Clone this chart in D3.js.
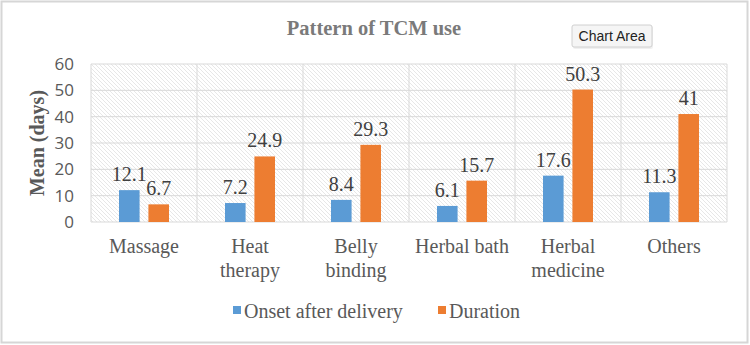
<!DOCTYPE html>
<html>
<head>
  <meta charset="utf-8">
  <title>Pattern of TCM use</title>
  <script src="https://d3js.org/d3.v7.min.js" charset="utf-8"></script>
  <style>
  body {margin: 0; background: #fff;}
  svg {display: block;}
  </style>
</head>
<body>
<script>
// chart values
const categories = [["Massage"], ["Heat", "therapy"], ["Belly", "binding"], ["Herbal bath"], ["Herbal", "medicine"], ["Others"]];
const seriesNames = ["Onset after delivery", "Duration"];
const onset = [12.1, 7.2, 8.4, 6.1, 17.6, 11.3];
const duration = [6.7, 24.9, 29.3, 15.7, 50.3, 41];
const yTicks = [0, 10, 20, 30, 40, 50, 60];

const width = 750, height = 345;
const margin = {left: 91, right: 23, top: 64, bottom: 123};
const colors = ["#5b9bd5", "#ed7d31"];
const serif = "'Liberation Serif', 'DejaVu Serif', serif";

const svg = d3.select("body").append("svg")
  .attr("width", width).attr("height", height);

// hatch pattern for the plot background
const defs = svg.append("defs");
const pat = defs.append("pattern")
  .attr("id", "hatch").attr("patternUnits", "userSpaceOnUse")
  .attr("width", 4).attr("height", 4);
pat.append("path").attr("d", "M-1,-1 L5,5 M-1,3 L1,5 M3,-1 L5,1")
  .attr("stroke", "#dcdcdc").attr("stroke-width", 0.7);

// outer chart-area frame
svg.append("rect").attr("x", 1.5).attr("y", 1.5)
  .attr("width", width - 4).attr("height", height - 4)
  .attr("fill", "#fff").attr("stroke", "#d6d6d6").attr("stroke-width", 2);

const g = svg.append("g").attr("transform", `translate(${margin.left},${margin.top})`);
const iw = width - margin.left - margin.right;
const ih = height - margin.top - margin.bottom;

const x0 = d3.scaleBand().domain(d3.range(categories.length)).range([0, iw]);
const x1 = d3.scaleBand().domain([0, 1]).range([x0.bandwidth() / 2 - 25, x0.bandwidth() / 2 + 25]).paddingInner(0.3);
const y = d3.scaleLinear().domain([0, 60]).range([ih, 0]);

g.append("rect").attr("width", iw).attr("height", ih).attr("fill", "url(#hatch)");

// horizontal gridlines
g.selectAll(".hgrid").data(yTicks).join("line")
  .attr("x1", 0).attr("x2", iw)
  .attr("y1", d => y(d)).attr("y2", d => y(d))
  .attr("stroke", "#d9d9d9").attr("stroke-width", 1);

// vertical category dividers
g.selectAll(".vgrid").data(d3.range(categories.length + 1)).join("line")
  .attr("x1", d => d * x0.step()).attr("x2", d => d * x0.step())
  .attr("y1", 0).attr("y2", ih)
  .attr("stroke", "#d9d9d9").attr("stroke-width", 1);

// y axis
const yAxis = g.append("g").call(d3.axisLeft(y).tickValues(yTicks).tickSize(0).tickPadding(17));
yAxis.select(".domain").remove();
yAxis.selectAll("text").attr("font-family", "'Open Sans', sans-serif").attr("font-size", 17).attr("fill", "#595959");

// bars
const series = [onset, duration];
series.forEach((vals, s) => {
  g.selectAll(".bar" + s).data(vals).join("rect")
    .attr("x", (d, i) => x0(i) + x1(s))
    .attr("y", d => y(d))
    .attr("width", x1.bandwidth())
    .attr("height", d => ih - y(d))
    .attr("fill", colors[s]);
  g.selectAll(".lab" + s).data(vals).join("text")
    .attr("x", (d, i) => x0(i) + x1(s) + x1.bandwidth() / 2)
    .attr("y", d => y(d) - 9)
    .attr("text-anchor", "middle")
    .attr("font-family", serif).attr("font-size", 20).attr("fill", "#404040")
    .text(d => d);
});

// x labels
const xl = g.selectAll(".xl").data(categories).join("text")
  .attr("text-anchor", "middle")
  .attr("font-family", serif).attr("font-size", 20).attr("fill", "#595959")
  .attr("transform", (d, i) => `translate(${x0(i) + x0.bandwidth() / 2},${ih + 31})`);
xl.selectAll("tspan").data(d => d).join("tspan")
  .attr("x", 0).attr("dy", (d, i) => i ? 24 : 0).text(d => d);

// title
svg.append("text").attr("x", 374).attr("y", 35).attr("text-anchor", "middle")
  .attr("font-family", serif).attr("font-weight", "bold").attr("font-size", 20.5)
  .attr("fill", "#7a7a7a").text("Pattern of TCM use");

// y title
svg.append("text").attr("transform", "translate(44,143) rotate(-90)")
  .attr("text-anchor", "middle")
  .attr("font-family", serif).attr("font-weight", "bold").attr("font-size", 20)
  .attr("fill", "#595959").text("Mean (days)");

// legend
const legX = [233, 438];
seriesNames.forEach((n, s) => {
  svg.append("rect").attr("x", legX[s]).attr("y", 306).attr("width", 8).attr("height", 8).attr("fill", colors[s]);
  svg.append("text").attr("x", legX[s] + 11).attr("y", 318)
    .attr("font-family", serif).attr("font-size", 20).attr("fill", "#595959").text(n);
});

// "Chart Area" hover tooltip
const tip = svg.append("g").attr("transform", "translate(572,25)");
tip.append("rect").attr("x", 1).attr("y", 1).attr("width", 80).attr("height", 23).attr("rx", 2)
  .attr("fill", "#000").attr("opacity", 0.06);
tip.append("rect").attr("width", 80).attr("height", 22).attr("rx", 2)
  .attr("fill", "#f5f5f5").attr("stroke", "#d0d0d0");
tip.append("text").attr("x", 40).attr("y", 16).attr("text-anchor", "middle")
  .attr("font-family", "'Liberation Sans', Arial, sans-serif").attr("font-size", 14).attr("fill", "#222")
  .text("Chart Area");
</script>
</body>
</html>
